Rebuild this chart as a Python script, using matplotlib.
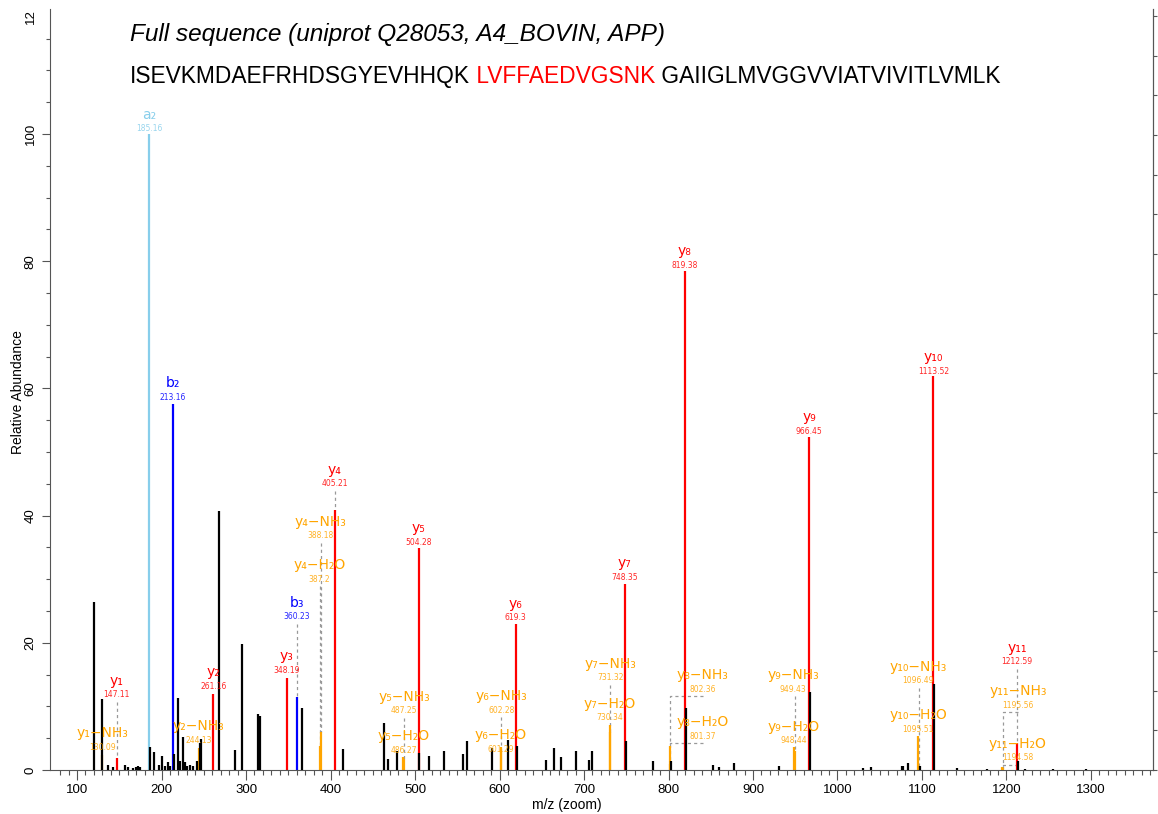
import matplotlib
matplotlib.use("Agg")
import matplotlib.pyplot as plt
from matplotlib.ticker import MultipleLocator, FixedLocator, NullFormatter

# ---- data -------------------------------------------------------------
# annotated fragment ions (name, m/z, relative abundance)
ion_names = ["a₂", "b₂", "b₃",
             "y₁", "y₁−NH₃", "y₂", "y₂−NH₃", "y₃",
             "y₄", "y₄−NH₃", "y₄−H₂O", "y₅", "y₅−NH₃", "y₅−H₂O",
             "y₆", "y₆−NH₃", "y₆−H₂O", "y₇", "y₇−NH₃", "y₇−H₂O",
             "y₈", "y₈−NH₃", "y₈−H₂O", "y₉", "y₉−NH₃", "y₉−H₂O",
             "y₁₀", "y₁₀−NH₃", "y₁₀−H₂O", "y₁₁", "y₁₁−NH₃", "y₁₁−H₂O"]
ion_mz = [185.16, 213.16, 360.23,
          147.11, 130.09, 261.16, 244.13, 348.19,
          405.21, 388.18, 387.2, 504.28, 487.25, 486.27,
          619.3, 602.28, 601.29, 748.35, 731.32, 730.34,
          819.38, 802.36, 801.37, 966.45, 949.43, 948.44,
          1113.52, 1096.49, 1095.51, 1212.59, 1195.56, 1194.58]
ion_int = [100, 57.6, 11.4,
           1.9, 2.4, 12.0, 3.5, 14.5,
           40.9, 5.9, 3.8, 34.9, 1.8, 2.0,
           22.9, 3.0, 3.6, 29.3, 6.0, 7.0,
           78.4, 1.0, 3.7, 52.4, 3.0, 3.6,
           62.0, 0.6, 5.4, 4.3, 0.3, 0.4]

# unassigned peaks
other_mz = [120.5, 129.2, 136.3, 142.6, 156.8, 160.0, 166.3, 169.2, 171.6, 174.0,
            186.4, 191.5, 197.0, 200.9, 204.1, 207.3, 210.1, 215.1, 219.2, 221.9,
            225.8, 227.8, 230.2, 233.7, 237.6, 241.7, 245.6, 247.1, 268.0, 287.0,
            295.6, 314.6, 316.6, 366.6, 415.1, 463.3, 468.4, 478.3, 505.3, 516.9,
            534.3, 556.4, 561.9, 591.5, 610.4, 620.3, 655.0, 664.5, 672.8, 690.5,
            705.9, 709.5, 749.35, 782.0, 802.6, 820.4, 853.0, 860.1, 877.5, 930.8,
            967.45, 1029.8, 1039.6, 1075.9, 1077.9, 1083.1, 1097.6, 1114.5, 1141.8, 1176.6,
            1213.6, 1221.9, 1254.7, 1294.1]
other_int = [26.4, 11.2, 0.8, 0.5, 0.8, 0.5, 0.3, 0.5, 0.6, 0.4,
             3.6, 2.9, 0.8, 2.2, 0.7, 1.2, 0.6, 2.5, 11.3, 1.4,
             5.2, 1.2, 0.7, 0.8, 0.6, 1.4, 4.3, 4.8, 40.8, 3.1,
             19.8, 8.85, 8.5, 9.8, 3.35, 7.4, 1.7, 3.0, 2.6, 2.2,
             3.0, 2.5, 4.5, 3.4, 4.7, 3.8, 1.5, 3.4, 2.0, 3.0,
             1.5, 3.0, 4.5, 1.4, 1.4, 9.8, 0.8, 0.4, 1.1, 0.7,
             12.3, 0.3, 0.5, 0.7, 0.7, 1.1, 0.6, 13.6, 0.3, 0.2,
             1.4, 0.2, 0.2, 0.2]

seq_before = "ISEVKMDAEFRHDSGYEVHHQK"
seq_peptide = "LVFFAEDVGSNK"
seq_after = "GAIIGLMVGGVVIATVIVITLVMLK"
title_text = "Full sequence (uniprot Q28053, A4_BOVIN, APP)"

# label placement (m/z of label centre, height of the number text)
label_x = [185.16, 213.16, 360.23,
           147.11, 130.09, 261.16, 244.13, 348.19,
           405.21, 388.18, 387.2, 504.28, 487.25, 486.27,
           619.3, 602.28, 601.29, 748.35, 731.32, 730.34,
           819.38, 840.8, 840.8, 966.45, 947.5, 948.44,
           1113.52, 1095.3, 1095.51, 1212.59, 1213.5, 1213.5]
label_y = [100.8, 58.6, 24.1,
           11.8, 3.6, 13.2, 4.7, 15.7,
           45.0, 36.8, 30.0, 35.8, 9.3, 3.1,
           23.9, 9.4, 3.3, 30.3, 14.5, 8.2,
           79.4, 12.7, 5.3, 53.3, 12.7, 4.6,
           62.7, 14.0, 6.4, 17.0, 10.2, 1.9]


def ion_color(name):
    if name.startswith("a"):
        return "#87ceeb"
    if name.startswith("b"):
        return "#0000ff"
    if "−" in name:
        return "#ffa500"
    return "#ff0000"


W, H = 1158, 814
fig = plt.figure(figsize=(W / 100, H / 100), dpi=100)
ax = fig.add_axes([50 / W, (H - 770) / H, 1103 / W, 761 / H])
ax.set_xlim(68.0, 1373.4)
ax.set_ylim(0, 761 / 6.36)

colors = [ion_color(n) for n in ion_names]
ax.vlines(ion_mz, 0, ion_int, colors=colors, linewidth=1.6, zorder=2)
ax.vlines(other_mz, 0, other_int, colors="black", linewidth=1.6, zorder=3)

# labels and dashed leaders
gap = 7 / 6.36
for name, mz, inten, lx, ly, c in zip(ion_names, ion_mz, ion_int, label_x, label_y, colors):
    ax.annotate(name, (lx, ly), xytext=(0, 10), textcoords="offset points",
                ha="center", va="center", color=c, fontsize=10,
                family="DejaVu Sans", zorder=5)
    ax.text(lx, ly, f"{mz:g}", ha="center", va="center", color=c, alpha=0.85,
            fontsize=5.5, family="DejaVu Sans", zorder=5)
    start = ly - gap
    if start - inten > 1.0 or abs(lx - mz) > 3:
        xs = [lx, mz, mz] if abs(lx - mz) > 3 else [mz, mz]
        ys = [start, start, inten] if abs(lx - mz) > 3 else [start, inten]
        ax.plot(xs, ys, color="#999999", linestyle=(0, (2.5, 2.5)), linewidth=0.9, zorder=1)

# axes styling
ax.spines["top"].set_visible(False)
for side in ["left", "bottom", "right"]:
    ax.spines[side].set_color("#555555")
ax.xaxis.set_major_locator(FixedLocator(range(100, 1301, 100)))
ax.xaxis.set_minor_locator(FixedLocator(range(80, 1371, 10)))
ax.yaxis.set_major_locator(FixedLocator(range(0, 101, 20)))
ax.yaxis.set_minor_locator(MultipleLocator(5))
ax.tick_params(axis="x", which="major", length=7, width=0.8, color="#555555",
               labelsize=9.5, pad=3)
ax.tick_params(axis="x", which="minor", length=3.5, width=0.8, color="#555555")
ax.tick_params(axis="y", which="major", length=6, width=0.8, color="#555555",
               labelsize=9.5, labelrotation=90)
ax.tick_params(axis="y", which="minor", length=3, width=0.8, color="#555555")
for lab in ax.get_xticklabels() + ax.get_yticklabels():
    lab.set_family("Liberation Sans")
for lab in ax.get_yticklabels():
    lab.set_va("center")

sec = ax.secondary_yaxis("right", functions=(lambda y: y / 6.24, lambda y: y * 6.24))
sec.yaxis.set_major_locator(MultipleLocator(1))
sec.yaxis.set_major_formatter(NullFormatter())
sec.spines["right"].set_color("#555555")
sec.tick_params(length=3, width=0.8, color="#555555")

# the clipped "12" at the top of the y axis
fig.text(31 / W, 1 - 16.5 / H, "12", rotation=90, ha="center", va="center",
         fontsize=9.5, family="Liberation Sans")

fig.text(18 / W, 1 - 392 / H, "Relative Abundance", rotation=90, ha="center",
         va="center", fontsize=10, family="Liberation Sans")
fig.text(567 / W, 1 - 805 / H, "m/z (zoom)", ha="center", va="center",
         fontsize=10, family="Liberation Sans")

# title and sequence
fig.text(130 / W, 1 - 40.5 / H, title_text, style="italic", fontsize=17.6,
         family="Liberation Sans", va="baseline")
t1 = fig.text(130 / W, 1 - 83 / H, seq_before, fontsize=16.35,
              family="Liberation Sans", va="baseline")
t2 = ax.annotate(" " + seq_peptide, xy=(1, 0), xycoords=t1, va="bottom",
                 fontsize=16.35, family="Liberation Sans", color="#ff0000")
ax.annotate(" " + seq_after, xy=(1, 0), xycoords=t2, va="bottom",
            fontsize=16.35, family="Liberation Sans")

fig.savefig("out.png", dpi=100)
